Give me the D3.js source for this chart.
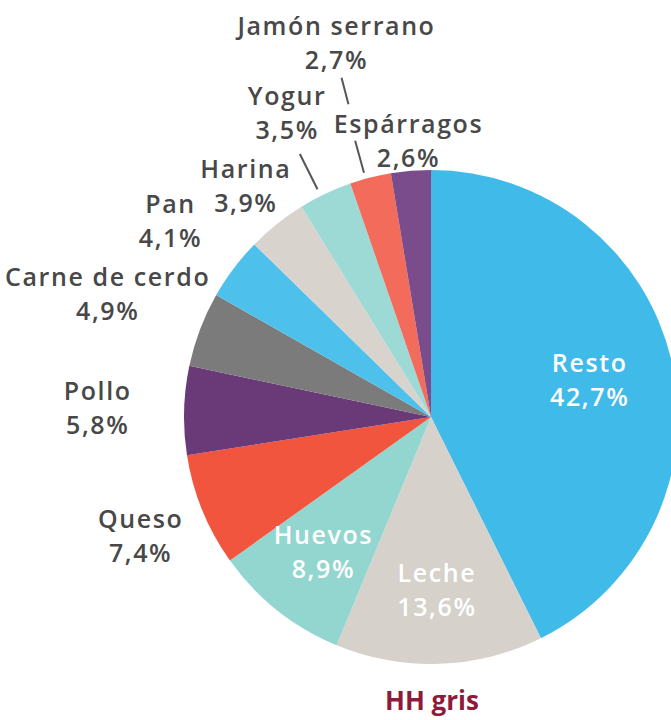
<!DOCTYPE html>
<html>
<head>
<meta charset="utf-8">
<script src="https://cdn.jsdelivr.net/npm/d3@7"></script>
<style>
  body { margin: 0; background: #fff; }
  svg { display: block; font-family: "Open Sans", sans-serif; }
</style>
</head>
<body>
<svg id="chart" width="671" height="720"></svg>
<script>
// data, clockwise from 12 o'clock
var categories = ["Resto", "Leche", "Huevos", "Queso", "Pollo", "Carne de cerdo",
                  "Pan", "Harina", "Yogur", "Jamón serrano", "Espárragos"];
var values = [42.7, 13.6, 8.9, 7.4, 5.8, 4.9, 4.1, 3.9, 3.5, 2.7, 2.6];
var valueLabels = ["42,7%", "13,6%", "8,9%", "7,4%", "5,8%", "4,9%",
                   "4,1%", "3,9%", "3,5%", "2,7%", "2,6%"];
var colors = ["#3fbae9", "#d6d1cb", "#93d6d0", "#f2553d", "#6a3978", "#7b7b7b",
              "#4dc0eb", "#d9d3cd", "#9ddad5", "#f26b5b", "#7a4c8c"];
var title = "HH gris";

// layout: label distance from centre as a fraction of the radius
var labelRadius = [0.66, 0.70, 0.70, 1.27, 1.35, 1.40, 1.32, 1.20, 1.36, 1.56, 1.12];
var insideLabel = [true, true, true, false, false, false, false, false, false, false, false];

var cx = 431, cy = 417, R = 247;
var svg = d3.select("#chart");
var g = svg.append("g").attr("transform", "translate(" + cx + "," + cy + ")");

var rows = categories.map(function (c, i) {
    return { name: c, value: values[i], label: valueLabels[i], color: colors[i],
             lr: labelRadius[i], inside: insideLabel[i] };
});

var pie = d3.pie().sort(null).value(function (d) { return d.value; });
var arc = d3.arc().innerRadius(0).outerRadius(R);
var arcs = pie(rows);

g.selectAll("path.slice")
    .data(arcs)
    .enter()
    .append("path")
    .attr("class", "slice")
    .attr("d", arc)
    .attr("fill", function (d) { return d.data.color; });

function polar(a, r) {
    return [Math.sin(a) * r, -Math.cos(a) * r];
}
function mid(d) { return (d.startAngle + d.endAngle) / 2; }

// leader lines (Yogur, Jamón serrano)
var leaders = [
    { name: "Yogur", from: 1.03, to: 1.19, shift: -0.02 },
    { name: "Jamón serrano", from: 1.025, to: 1.16, shift: -0.02 },
    { name: "Jamón serrano", from: 1.31, to: 1.42, shift: -0.01 }
];
leaders.forEach(function (l) {
    var d = arcs[categories.indexOf(l.name)];
    var a = mid(d) + l.shift;
    var p0 = polar(a, R * l.from), p1 = polar(a, R * l.to);
    g.append("line")
        .attr("x1", p0[0]).attr("y1", p0[1])
        .attr("x2", p1[0]).attr("y2", p1[1])
        .attr("stroke", "#5b5355")
        .attr("stroke-width", 2);
});

var labels = g.selectAll("text.lbl")
    .data(arcs)
    .enter()
    .append("text")
    .attr("class", "lbl")
    .attr("text-anchor", "middle")
    .attr("font-size", 25)
    .attr("font-weight", 600)
    .attr("letter-spacing", 1.6)
    .attr("fill", function (d) { return d.data.inside ? "#ffffff" : "#484848"; })
    .attr("transform", function (d) {
        var p = polar(mid(d), R * d.data.lr);
        return "translate(" + p[0] + "," + p[1] + ")";
    });

labels.append("tspan")
    .attr("x", 0)
    .attr("y", -8)
    .text(function (d) { return d.data.name; });
labels.append("tspan")
    .attr("x", 0)
    .attr("y", 26)
    .text(function (d) { return d.data.label; });

svg.append("text")
    .attr("x", 432)
    .attr("y", 710)
    .attr("text-anchor", "middle")
    .attr("font-size", 26)
    .attr("font-weight", 700)
    .attr("fill", "#8e1b3a")
    .text(title);
</script>
</body>
</html>
